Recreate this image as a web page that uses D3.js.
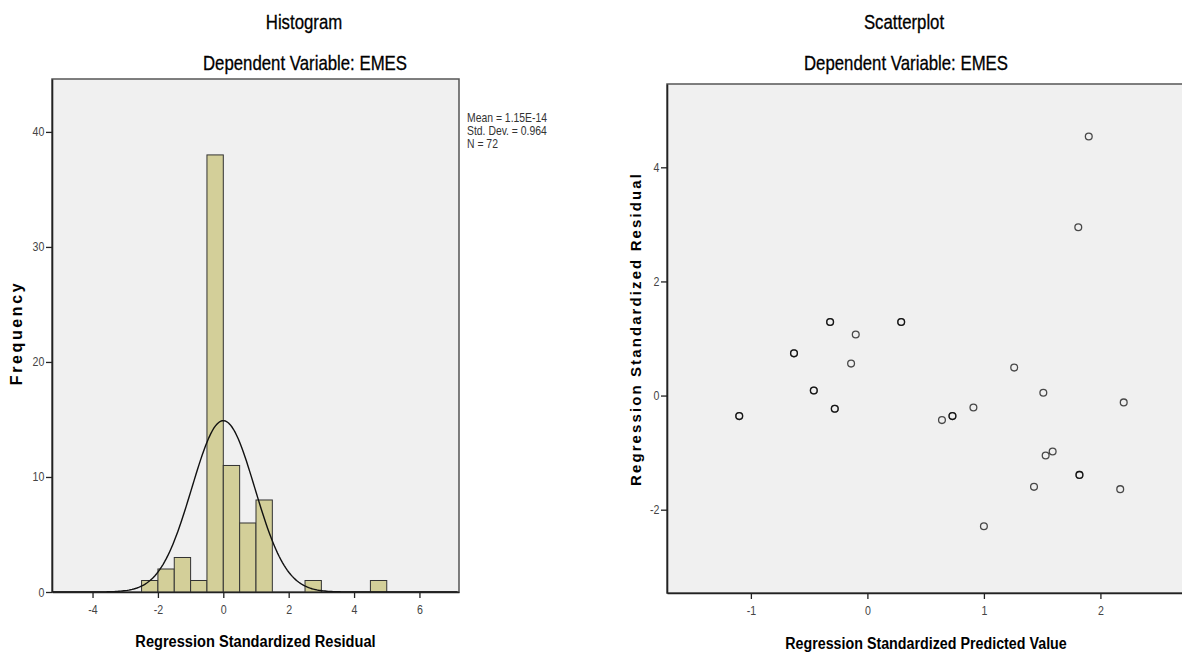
<!DOCTYPE html>
<html>
<head>
<meta charset="utf-8">
<script src="https://cdn.jsdelivr.net/npm/d3@7"></script>
<style>
body { margin: 0; background: #fff; }
text { font-family: "Liberation Sans", Arial, sans-serif; }
</style>
</head>
<body>
<script>
// histogram data (bin start, width 0.5)
var binStart = [-2.5, -2, -1.5, -1, -0.5, 0, 0.5, 1, 2.5, 4.5];
var binCount = [1, 2, 3, 1, 38, 11, 6, 8, 1, 1];
var binWidth = 0.5;
var histXTicks = [-4, -2, 0, 2, 4, 6];
var histYTicks = [0, 10, 20, 30, 40];
var statMean = 1.15e-14, statSd = 0.964, statN = 72;
var legendLines = ["Mean = 1.15E-14", "Std. Dev. = 0.964", "N = 72"];

// scatterplot data (overlapping cases listed twice)
var predX = [1.90, 1.81, 0.29, 0.29, 1.26, 1.51, 2.20, 0.91, 0.64, 0.73, 0.73, 1.59, 1.53, 1.82, 1.82,
             1.43, 2.17, 1.00, -1.10, -1.10, -0.63, -0.63, -0.46, -0.46, -0.32, -0.32, -0.28, -0.28, -0.10, -0.14];
var residY = [4.54, 2.95, 1.29, 1.29, 0.49, 0.05, -0.12, -0.21, -0.43, -0.36, -0.36, -0.98, -1.05, -1.39, -1.39,
              -1.60, -1.64, -2.29, -0.36, -0.36, 0.74, 0.74, 0.09, 0.09, 1.29, 1.29, -0.23, -0.23, 1.07, 0.56];
var scatXTicks = [-1, 0, 1, 2];
var scatYTicks = [-2, 0, 2, 4];

var width = 1182, height = 653;

var svg = d3.select("body")
    .append("svg")
    .attr("width", width)
    .attr("height", height);

// no narrow font installed, so squeeze text horizontally
function narrowText(x, y, str, size, squeeze, anchor) {
    return svg.append("text")
        .attr("transform", "translate(" + x + "," + y + ") scale(" + squeeze + ",1)")
        .attr("text-anchor", anchor || "middle")
        .style("font-size", size + "px")
        .text(str);
}

function styleAxis(a) {
    a.select(".domain").style("stroke", "#222").style("stroke-width", 1.6);
    a.selectAll(".tick line").style("stroke", "#222").style("stroke-width", 1.3);
    a.selectAll(".tick text")
        .style("font-family", '"Liberation Sans", Arial, sans-serif')
        .style("font-size", "12.5px")
        .style("fill", "#444")
        .attr("transform", "scale(0.85,1)");
}

// ---------- histogram ----------
var hx = d3.scaleLinear().domain([-5.24, 7.21]).range([52, 459]);
var hy = d3.scaleLinear().domain([0, 44.6]).range([592, 79]);

svg.append("clipPath").attr("id", "hclip")
  .append("rect")
    .attr("x", hx.range()[0]).attr("y", hy.range()[1])
    .attr("width", hx.range()[1] - hx.range()[0])
    .attr("height", hy.range()[0] - hy.range()[1]);

svg.append("rect")
    .attr("x", hx.range()[0]).attr("y", hy.range()[1])
    .attr("width", hx.range()[1] - hx.range()[0])
    .attr("height", hy.range()[0] - hy.range()[1])
    .style("fill", "#f0f0f0")
    .style("stroke", "#555")
    .style("stroke-width", 1.5);

svg.selectAll(".bar")
    .data(binStart)
    .enter().append("rect")
    .attr("class", "bar")
    .attr("x", function(d) { return hx(d); })
    .attr("width", function(d) { return hx(d + binWidth) - hx(d); })
    .attr("y", function(d, i) { return hy(binCount[i]); })
    .attr("height", function(d, i) { return hy(0) - hy(binCount[i]); })
    .style("fill", "#d3cf99")
    .style("stroke", "#333")
    .style("stroke-width", 1);

// fitted normal curve from mean / sd / N
var curvePts = d3.range(hx.domain()[0], hx.domain()[1], 0.05).map(function(x) {
    var z = (x - statMean) / statSd;
    return [x, statN * binWidth * Math.exp(-0.5 * z * z) / (statSd * Math.sqrt(2 * Math.PI))];
});
svg.append("path")
    .datum(curvePts)
    .attr("clip-path", "url(#hclip)")
    .attr("d", d3.line().x(function(d) { return hx(d[0]); }).y(function(d) { return hy(d[1]); }))
    .style("fill", "none")
    .style("stroke", "#111")
    .style("stroke-width", 1.4);

var hxAxis = svg.append("g")
    .attr("transform", "translate(0," + hy(0) + ")")
    .call(d3.axisBottom(hx).tickValues(histXTicks).tickFormat(String).tickSize(6).tickSizeOuter(0));
var hyAxis = svg.append("g")
    .attr("transform", "translate(" + hx.range()[0] + ",0)")
    .call(d3.axisLeft(hy).tickValues(histYTicks).tickFormat(String).tickSize(6).tickSizeOuter(0));
styleAxis(hxAxis);
styleAxis(hyAxis);
hxAxis.selectAll(".tick text").attr("y", 13);

narrowText(304, 29, "Histogram", 20, 0.84).style("stroke", "#000").style("stroke-width", 0.3);
narrowText(305, 70, "Dependent Variable: EMES", 20, 0.84).style("stroke", "#000").style("stroke-width", 0.3);

narrowText((hx.range()[0] + hx.range()[1]) / 2, 647, "Regression Standardized Residual", 17, 0.86)
    .style("font-weight", "bold");

svg.append("text")
    .attr("transform", "translate(22,333) rotate(-90)")
    .attr("text-anchor", "middle")
    .style("font-size", "16px")
    .style("font-weight", "bold")
    .style("letter-spacing", "2.6px")
    .text("Frequency");

legendLines.forEach(function(d, i) {
    narrowText(467, 122 + i * 13, d, 13, 0.8, "start").style("fill", "#333");
});

// ---------- scatterplot ----------
var sx = d3.scaleLinear().domain([-1.72, 2.726]).range([667, 1185]);
var sy = d3.scaleLinear().domain([-3.46, 5.46]).range([593, 84]);

svg.append("rect")
    .attr("x", sx.range()[0]).attr("y", sy.range()[1])
    .attr("width", sx.range()[1] - sx.range()[0])
    .attr("height", sy.range()[0] - sy.range()[1])
    .style("fill", "#f0f0f0")
    .style("stroke", "#555")
    .style("stroke-width", 1.5);

svg.selectAll(".pt")
    .data(predX)
    .enter().append("circle")
    .attr("class", "pt")
    .attr("cx", function(d) { return sx(d); })
    .attr("cy", function(d, i) { return sy(residY[i]); })
    .attr("r", 3.4)
    .style("fill", "none")
    .style("stroke", "#000")
    .style("stroke-opacity", 0.7)
    .style("stroke-width", 1.3);

var sxAxis = svg.append("g")
    .attr("transform", "translate(0," + sy.range()[0] + ")")
    .call(d3.axisBottom(sx).tickValues(scatXTicks).tickFormat(String).tickSize(6).tickSizeOuter(0));
var syAxis = svg.append("g")
    .attr("transform", "translate(" + sx.range()[0] + ",0)")
    .call(d3.axisLeft(sy).tickValues(scatYTicks).tickFormat(String).tickSize(6).tickSizeOuter(0));
styleAxis(sxAxis);
styleAxis(syAxis);
sxAxis.selectAll(".tick text").attr("y", 13);

narrowText(904, 29, "Scatterplot", 20, 0.84).style("stroke", "#000").style("stroke-width", 0.3);
narrowText(906, 70, "Dependent Variable: EMES", 20, 0.84).style("stroke", "#000").style("stroke-width", 0.3);

narrowText(926, 649, "Regression Standardized Predicted Value", 17, 0.84)
    .style("font-weight", "bold");

svg.append("text")
    .attr("transform", "translate(641,329) rotate(-90)")
    .attr("text-anchor", "middle")
    .style("font-size", "15px")
    .style("font-weight", "bold")
    .style("letter-spacing", "2.1px")
    .text("Regression Standardized Residual");
</script>
</body>
</html>
